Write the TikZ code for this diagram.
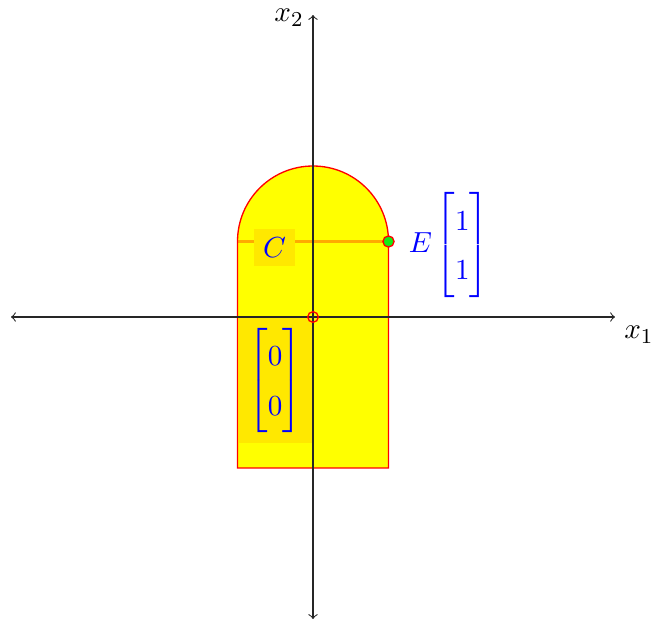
\documentclass[tikz,border=0pt]{standalone}
\usepackage{amsmath}
\definecolor{shapey}{RGB}{255,255,0}
\definecolor{boxy}{RGB}{255,232,0}
\definecolor{lineor}{RGB}{255,170,0}
\definecolor{dotg}{RGB}{20,235,20}
\definecolor{txtb}{RGB}{0,0,255}
\definecolor{edger}{RGB}{255,0,0}
\begin{document}
\begin{tikzpicture}[
  every node/.style={font=\fontsize{11}{13.6}\selectfont},
  axis/.style={black!85},
  lab/.style={text=txtb, inner sep=3.33pt},
  labbox/.style={lab, fill=boxy},
]
\renewcommand{\arraystretch}{1.38}
\delimitershortfall=0pt
\useasboundingbox (-4.146,-4.066) rectangle (4.477,4.199);
% region
\fill[shapey] (-1,-2) -- (1,-2) -- (1,1) arc (0:180:1) -- cycle;
\coordinate (L) at (-1,1);
\coordinate (E) at (1,1);
\draw[lineor, line width=0.8pt] (L) -- (E);
\node[labbox] (C) at (-0.51,0.92) {$C$};
\node[labbox, minimum width=0.97cm, minimum height=1.66cm, inner sep=0pt] (M0) at (-0.50,-0.84) {$\begin{bmatrix}0\\0\end{bmatrix}$};
\draw[edger, line width=0.5pt] (-1,-2) -- (1,-2) -- (1,1) arc (0:180:1) -- cycle;
% axes
\coordinate (xl) at (-4,0);
\coordinate (xr) at (4,0);
\coordinate (yb) at (0,-4);
\coordinate (yt) at (0,4);
\draw[axis, <->] (xl) -- (xr);
\draw[axis, <->] (yb) -- (yt);
\node[anchor=north west] (x1) at (xr) {$x_1$};
\node[anchor=east, yshift=-1pt] (x2) at (yt) {$x_2$};
% points
\coordinate (O) at (0,0);
\draw[edger, line width=0.5pt] (O) circle (2pt);
\fill[dotg, draw=edger, line width=0.5pt] (E) circle (2.1pt);
\node[lab, inner sep=0pt] (El) at (1.424,0.987) {$E$};
\node[lab, inner sep=0pt] (M1) at (1.980,0.954) {$\begin{bmatrix}1\\1\end{bmatrix}$};
\end{tikzpicture}
\end{document}
